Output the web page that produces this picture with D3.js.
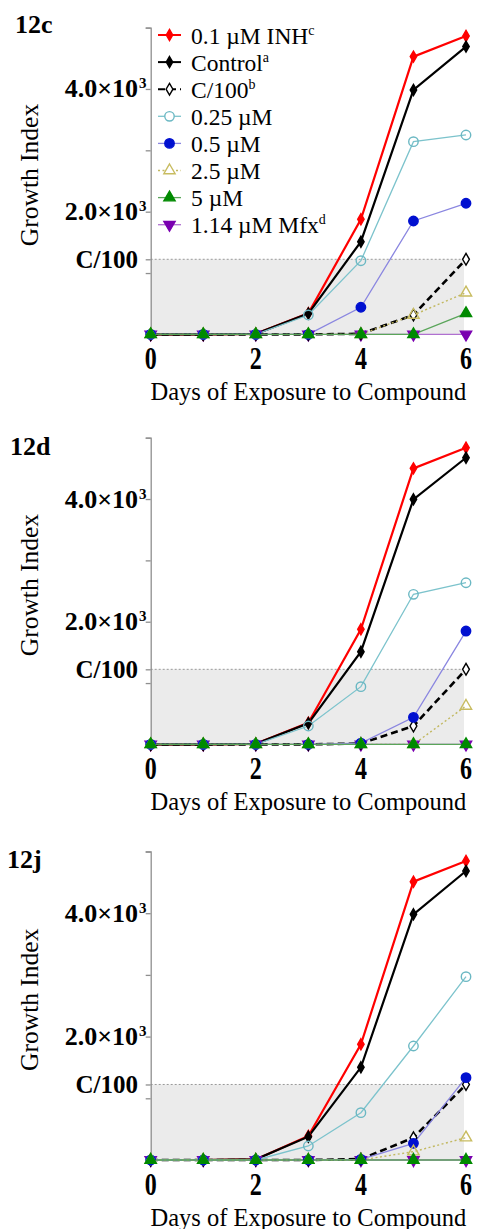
<!DOCTYPE html>
<html><head><meta charset="utf-8">
<script src="https://cdn.jsdelivr.net/npm/d3@7/dist/d3.min.js"></script>
<style>
html,body{margin:0;padding:0;background:#fff;}
svg{display:block;font-family:"Liberation Serif","Times New Roman",serif;}
</style></head>
<body>
<svg id="chart" width="477" height="1229"></svg>
<script>
// ---------- data ----------
const days = [0, 1, 2, 3, 4, 5, 6];
const seriesNames = ["0.1 µM INH", "Control", "C/100", "0.25 µM", "0.5 µM", "2.5 µM", "5 µM", "1.14 µM Mfx"];
const seriesSup = ["c", "a", "b", "", "", "", "", "d"];
const panelLabels = ["12c", "12d", "12j"];
const yTickValues = [1000, 2000, 3000, 4000, 5000];
const yLabelValues = [2000, 4000];
const yLabelMain = ["2.0×10", "4.0×10"];
const cOver100 = 1224;
const xTickLabels = [0, 2, 4, 6];

// rows follow seriesNames order
const values12c = [
  [0, 0, 10, 344, 1876, 4527, 4864],
  [0, 0, 10, 340, 1511, 3984, 4690],
  [0, 0, 0, 0, 10, 316, 1224],
  [0, 0, 0, 316, 1201, 3141, 3250],
  [0, 0, 0, 0, 442, 1848, 2137],
  [0, 0, 0, 0, 0, 316, 680],
  [0, 0, 0, 0, 0, 0, 344],
  [0, 0, 0, 0, 0, 0, 0]
];
const values12d = [
  [0, 0, 10, 354, 1876, 4500, 4836],
  [0, 0, 10, 344, 1511, 3995, 4673],
  [0, 0, 0, 0, 15, 300, 1224],
  [0, 0, 0, 300, 941, 2447, 2636],
  [0, 0, 0, 0, 20, 441, 1848],
  [0, 0, 0, 0, 0, 0, 626],
  [0, 0, 0, 0, 0, 0, 0],
  [0, 0, 0, 0, 0, 0, 0]
];
const values12j = [
  [0, 0, 10, 389, 1875, 4511, 4846],
  [0, 0, 10, 378, 1502, 3982, 4684],
  [0, 0, 0, 0, 15, 362, 1224],
  [0, 0, 0, 227, 767, 1848, 2971],
  [0, 0, 0, 0, 10, 270, 1334],
  [0, 0, 0, 0, 0, 135, 362],
  [0, 0, 0, 0, 0, 0, 0],
  [0, 0, 0, 0, 0, 0, 0]
];
const panelValues = [values12c, values12d, values12j];

// ---------- styles ----------
const styles = [
  {line: "#ff0000", w: 2.2, dash: null, sym: d3.symbolDiamond, size: 36, fill: "#ff0000", stroke: "#ff0000"},
  {line: "#000000", w: 2.2, dash: null, sym: d3.symbolDiamond, size: 36, fill: "#000000", stroke: "#000000"},
  {line: "#000000", w: 2.6, dash: "7,4", sym: d3.symbolDiamond, size: 40, fill: "#ffffff", stroke: "#000000"},
  {line: "#7cc3cc", w: 1.3, dash: null, sym: d3.symbolCircle, size: 70, fill: "none", stroke: "#6bb8c3"},
  {line: "#8a86e0", w: 1.3, dash: null, sym: d3.symbolCircle, size: 70, fill: "#0010d0", stroke: "#0010d0"},
  {line: "#c2b860", w: 1.4, dash: "2,2.5", sym: d3.symbolTriangle, size: 55, fill: "none", stroke: "#c8bc60"},
  {line: "#5aa55a", w: 1.3, dash: null, sym: d3.symbolTriangle, size: 55, fill: "#008a00", stroke: "#008a00"},
  {line: "#b070d0", w: 1.3, dash: null, sym: d3.symbolTriangle, size: 55, fill: "#7a00b0", stroke: "#7a00b0", rot: 180}
];
const drawOrder = [7, 0, 1, 2, 3, 4, 5, 6];

// ---------- layout ----------
const panels = [
  {top: 27.6, base: 334.4, label: [15, 33], legend: true},
  {top: 437.7, base: 744.4, label: [10, 455], legend: false},
  {top: 851.5, base: 1160, label: [7, 868], legend: false}
];
const xLeft = 150.7, xRight = 466;

const svg = d3.select("#chart");
const x = d3.scaleLinear().domain([0, 6]).range([xLeft, xRight]);

panels.forEach((p, pi) => {
  const g = svg.append("g");
  const y = d3.scaleLinear().domain([0, 5000]).range([p.base, p.top]);
  const vals = panelValues[pi];

  // shaded region below C/100
  g.append("rect")
    .attr("x", x(0)).attr("y", y(cOver100))
    .attr("width", x(6) - x(0) - 2).attr("height", y(0) - y(cOver100))
    .attr("fill", "#ebebeb");
  g.append("line")
    .attr("x1", x(0)).attr("x2", x(6))
    .attr("y1", y(cOver100)).attr("y2", y(cOver100))
    .attr("stroke", "#999").attr("stroke-width", 1).attr("stroke-dasharray", "2,2");

  // y axis
  const ax = g.append("g").attr("transform", `translate(${x(0)},0)`)
    .call(d3.axisLeft(y).tickValues(yTickValues.concat([cOver100])).tickSize(5).tickFormat(""));
  ax.select(".domain").attr("stroke", "#8f8f8f").attr("stroke-width", 1.3);
  ax.selectAll(".tick line").attr("stroke", "#8f8f8f").attr("stroke-width", 1.3);

  yLabelValues.forEach((v, i) => {
    g.append("text").attr("x", 138).attr("y", y(v) + 8.5)
      .attr("text-anchor", "end").attr("font-weight", "bold").attr("font-size", 26)
      .text(yLabelMain[i]);
    g.append("text").attr("x", 139).attr("y", y(v) - 0.5)
      .attr("font-weight", "bold").attr("font-size", 15).text("3");
  });
  g.append("text").attr("x", 138).attr("y", y(cOver100) + 8.5)
    .attr("text-anchor", "end").attr("font-weight", "bold").attr("font-size", 25)
    .text("C/100");

  // x tick labels
  xTickLabels.forEach(d => {
    g.append("text")
      .attr("transform", `translate(${x(d)},${p.base + 35}) scale(1,1.35)`)
      .attr("text-anchor", "middle").attr("font-weight", "bold").attr("font-size", 24)
      .text(d);
  });

  // axis titles
  g.append("text").attr("x", x(3)).attr("y", p.base + 65.5)
    .attr("text-anchor", "middle").attr("font-size", 24.5)
    .text("Days of Exposure to Compound");
  g.append("text")
    .attr("transform", `translate(38,${(p.top + p.base) / 2 - 6}) rotate(-90)`)
    .attr("text-anchor", "middle").attr("font-size", 25.5)
    .text("Growth Index");

  // panel label
  g.append("text").attr("x", p.label[0]).attr("y", p.label[1])
    .attr("font-weight", "bold").attr("font-size", 26).text(panelLabels[pi]);

  // series
  const line = d3.line().x((d, i) => x(days[i])).y(d => y(d));
  drawOrder.forEach(si => {
    const s = styles[si];
    g.append("path").datum(vals[si])
      .attr("d", line).attr("fill", "none")
      .attr("stroke", s.line).attr("stroke-width", s.w)
      .attr("stroke-dasharray", s.dash);
  });
  drawOrder.forEach(si => {
    const s = styles[si];
    g.selectAll(null).data(vals[si]).enter().append("path")
      .attr("d", d3.symbol().type(s.sym).size(s.size))
      .attr("transform", (d, i) => `translate(${x(days[i])},${y(d)})${s.rot ? " rotate(" + s.rot + ")" : ""}`)
      .attr("fill", s.fill).attr("stroke", s.stroke).attr("stroke-width", 1.4);
  });

  // legend
  if (p.legend) {
    const lg = g.append("g");
    seriesNames.forEach((name, i) => {
      const s = styles[i];
      const ly = 35 + i * 27.1;
      lg.append("line").attr("x1", 158).attr("x2", 181).attr("y1", ly).attr("y2", ly)
        .attr("stroke", s.line).attr("stroke-width", Math.min(s.w, 2)).attr("stroke-dasharray", s.dash);
      lg.append("path").attr("d", d3.symbol().type(s.sym).size(s.size))
        .attr("transform", `translate(169.5,${ly})${s.rot ? " rotate(" + s.rot + ")" : ""}`)
        .attr("fill", s.fill === "none" ? "#fff" : s.fill).attr("stroke", s.stroke).attr("stroke-width", 1.4);
      const t = lg.append("text").attr("x", 191).attr("y", ly + 8.5).attr("font-size", 23.5);
      t.append("tspan").text(name);
      if (seriesSup[i]) t.append("tspan").attr("dy", -9).attr("font-size", 14).text(seriesSup[i]);
    });
  }
});
</script>
</body></html>
